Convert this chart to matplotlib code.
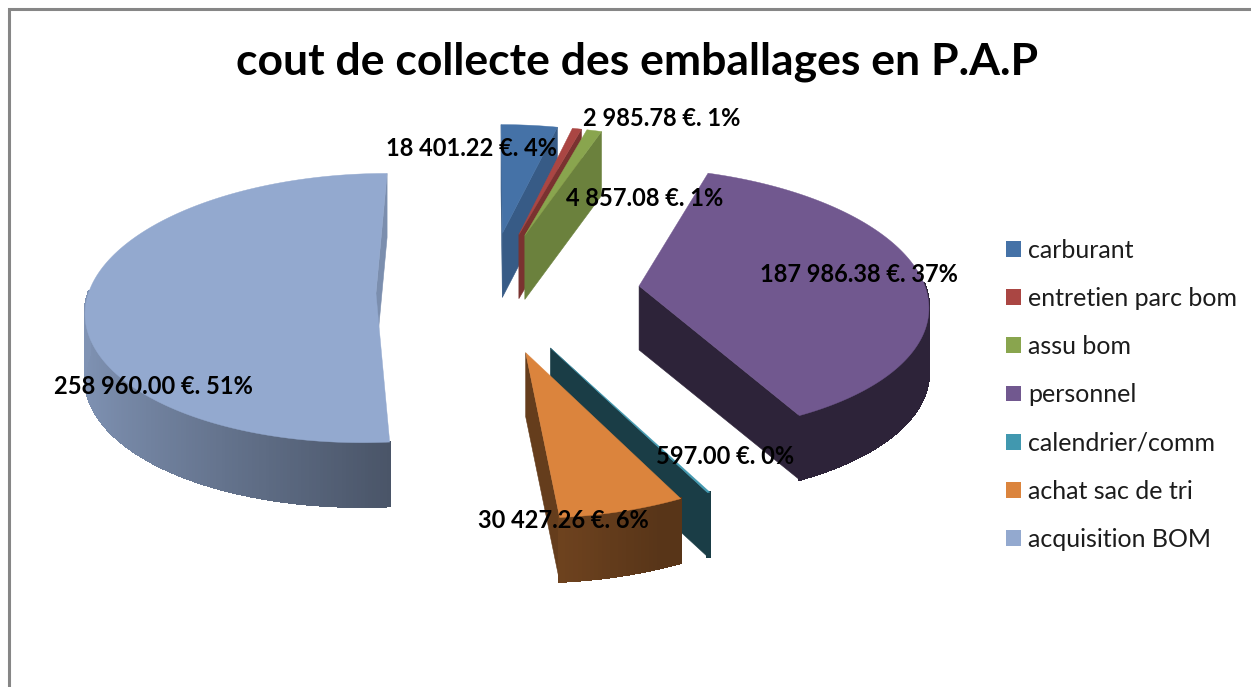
"""
cout de collecte des emballages en P.A.P : camembert 3D eclate
"""
import matplotlib
matplotlib.use('Agg')
import matplotlib.pyplot as plt
from matplotlib.patches import Patch, Rectangle
from matplotlib.colors import to_rgb
import numpy as np

plt.rcParams['font.family'] = ['Lato', 'DejaVu Sans']

# ── Data ─────────────────────────────────────────────────────────────
categories = ['carburant', 'entretien parc bom', 'assu bom', 'personnel',
              'calendrier/comm', 'achat sac de tri', 'acquisition BOM']
values = [18401.22, 2985.78, 4857.08, 187986.38, 597.00, 30427.26, 258960.00]
explode = [0.46, 0.46, 0.46, 0.53, 0.46, 0.46, 0.39]

# ── Style ────────────────────────────────────────────────────────────
colors = ['#4572A7', '#AA4643', '#89A54E', '#71588F', '#4198AF', '#DB843D', '#93A9CF']
wall_shade = [0.80, 0.72, 0.78, 0.40, 0.40, 0.46, 0.84]
draw_order = [6, 0, 1, 2, 3, 4, 5]
label_pos = [(471, 149), (662, 119), (645, 199), (859, 275), (725, 456), (563, 520), (153, 387)]

CX, CY = 488, 291
RX, RY = 287, 132.5
K = 0.11       # perspective
DEPTH = 64


def project(u, v):
    w = 1 + K * v
    return CX + RX * u / w, CY - RY * v / w


def shade(col, f):
    return tuple(c * f for c in to_rgb(col))


def money(v):
    return f'{v:,.2f}'.replace(',', ' ')


fig, ax = plt.subplots(figsize=(12.51, 6.87), dpi=100)
fig.subplots_adjust(0, 0, 1, 1)
ax.set_xlim(0, 1251)
ax.set_ylim(687, 0)
ax.axis('off')

ax.add_patch(Rectangle((9, 9), 1400, 900, fc='white', ec='#868686', lw=2.2, zorder=0))

total = sum(values)
edges = np.concatenate([[0], np.cumsum(values)]) / total * 360

for i in draw_order:
    a0, a1 = edges[i], edges[i + 1]
    mid = np.radians((a0 + a1) / 2)
    eu, ev = explode[i] * np.sin(mid), explode[i] * np.cos(mid)
    t = np.radians(np.linspace(a0, a1, max(3, int((a1 - a0) * 1.5))))
    ax_, ay_ = project(eu, ev)
    xs, ys = project(eu + np.sin(t), ev + np.cos(t))
    cen_x = (ax_ + xs.mean() * 2) / 3
    cen_y = (ay_ + ys.mean() * 2) / 3

    # radial walls, kept only when the top face lies above the edge
    for ex, ey in [(xs[0], ys[0]), (xs[-1], ys[-1])]:
        dx = ex - ax_
        if abs(dx) < 1e-6:
            continue
        line_y = ay_ + (cen_x - ax_) * (ey - ay_) / dx
        if cen_y < line_y:
            ax.fill([ax_, ex, ex, ax_], [ay_, ey, ey + DEPTH, ay_ + DEPTH],
                    color=shade(colors[i], wall_shade[i]), lw=0.4, zorder=2)

    # outer wall, gradient by angle
    for j in range(len(t) - 1):
        tm = (t[j] + t[j + 1]) / 2
        if np.cos(tm) > 0.02:
            continue
        f = max(0.40, 0.53 - 0.34 * np.sin(tm))
        ax.fill([xs[j], xs[j + 1], xs[j + 1], xs[j]],
                [ys[j], ys[j + 1], ys[j + 1] + DEPTH, ys[j] + DEPTH],
                color=shade(colors[i], f), lw=1.2, antialiased=False, zorder=2)

    # top face
    ax.fill(np.r_[ax_, xs], np.r_[ay_, ys], color=colors[i], lw=0.3, zorder=3)

# ── Labels ───────────────────────────────────────────────────────────
for v, (lx, ly) in zip(values, label_pos):
    ax.text(lx, ly, f'{money(v)} €. {v / total * 100:.0f}%', ha='center', va='center',
            fontsize=17, fontweight='bold', color='black', zorder=5)

ax.text(637, 62, 'cout de collecte des emballages en P.A.P', ha='center', va='center',
        fontsize=32, fontweight='bold', color='black', zorder=5)

# ── Legend ───────────────────────────────────────────────────────────
handles = [Patch(facecolor=c, edgecolor='none') for c in colors]
ax.legend(handles, categories, loc='upper left', bbox_to_anchor=(998.5 / 1251, 1 - 231 / 687),
          frameon=False, fontsize=18, labelcolor='#1c1c1c', handlelength=0.6,
          handleheight=0.6, handletextpad=0.28, labelspacing=1.01,
          borderpad=0.3, borderaxespad=0)

fig.savefig('out.png', dpi=100, facecolor='white')
plt.close()
